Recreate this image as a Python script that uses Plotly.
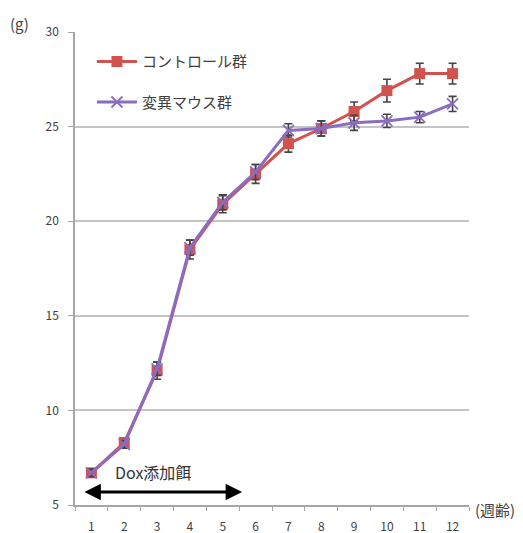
import plotly.graph_objects as go

# Body weight by age (weeks)
weeks = [1, 2, 3, 4, 5, 6, 7, 8, 9, 10, 11, 12]
control_mean = [6.7, 8.3, 12.1, 18.5, 20.9, 22.5, 24.1, 24.9, 25.8, 26.9, 27.8, 27.8]
control_err = [0.2, 0.25, 0.45, 0.5, 0.45, 0.5, 0.45, 0.4, 0.5, 0.6, 0.55, 0.55]
mutant_mean = [6.7, 8.2, 12.2, 18.6, 21.0, 22.6, 24.8, 24.9, 25.2, 25.3, 25.5, 26.2]
mutant_err = [0.2, 0.2, 0.35, 0.4, 0.4, 0.4, 0.35, 0.4, 0.4, 0.35, 0.3, 0.4]

series_names = ["コントロール群", "変異マウス群"]
x_tick_labels = [str(w) for w in weeks]
y_ticks = [5, 10, 15, 20, 25, 30]

FONT = "Noto Sans CJK JP, Noto Sans, sans-serif"
RED = "#d0534f"
PURPLE = "#8a6cc0"
ERR = "#444444"
TXT = "#404040"

fig = go.Figure()

fig.add_trace(go.Scatter(
    x=weeks, y=control_mean, name=series_names[0], mode="lines+markers",
    line=dict(color=RED, width=3),
    marker=dict(symbol="square", size=11, color=RED),
    error_y=dict(type="data", array=control_err, color=ERR, thickness=1.6, width=4),
    legendgroup="a",
))
fig.add_trace(go.Scatter(
    x=weeks, y=mutant_mean, name=series_names[1], mode="lines+markers",
    line=dict(color=PURPLE, width=3),
    marker=dict(symbol="x-thin", size=11, color=PURPLE, line=dict(color=PURPLE, width=1.8)),
    error_y=dict(type="data", array=mutant_err, color=ERR, thickness=1.6, width=4),
    legendgroup="b",
))

fig.update_layout(
    width=523, height=533,
    margin=dict(l=75, r=54, t=32, b=28),
    paper_bgcolor="white", plot_bgcolor="white",
    font=dict(family=FONT, color=TXT, size=12),
    showlegend=True,
    legend=dict(
        x=0.043, y=0.972, xanchor="left", yanchor="top",
        bgcolor="rgba(0,0,0,0)", font=dict(size=15, color=TXT),
        traceorder="grouped", tracegroupgap=18, itemwidth=40,
    ),
    xaxis=dict(
        range=[0.5, 12.5], tickmode="array", tickvals=weeks, ticktext=x_tick_labels,
        showgrid=False, zeroline=False, automargin=False,
        showline=True, linecolor="#a6a6a6", linewidth=1.5,
        ticks="", ticklabelstandoff=10, tickfont=dict(size=12, color=TXT),
        minor=dict(tickmode="linear", tick0=0.5, dtick=1, ticks="outside",
                   ticklen=4, tickcolor="#a6a6a6", tickwidth=1.2, showgrid=False),
    ),
    yaxis=dict(
        range=[5, 30], tickmode="array", tickvals=y_ticks,
        showgrid=True, gridcolor="#c4c4c4", gridwidth=1.5, automargin=False,
        zeroline=False, showline=True, linecolor="#a6a6a6", linewidth=1.5,
        ticks="outside", ticklen=5, tickcolor="#a6a6a6", tickwidth=1.2,
        ticklabelstandoff=7, tickfont=dict(size=12, color=TXT),
    ),
)

# Unit labels
fig.add_annotation(xref="paper", yref="paper", x=-0.17, y=1.017, text="(g)",
                   showarrow=False, xanchor="left", yanchor="middle",
                   font=dict(size=15, color=TXT))
fig.add_annotation(xref="paper", yref="paper", x=1.01, y=-0.01, text="(週齢)",
                   showarrow=False, xanchor="left", yanchor="middle",
                   font=dict(size=15, color=TXT))

# Dox diet period: double-headed arrow
fig.add_annotation(x=5.59, y=5.69, ax=0.74, ay=5.69, xref="x", yref="y",
                   axref="x", ayref="y", text="", showarrow=True,
                   arrowhead=2, startarrowhead=2, arrowside="end+start",
                   arrowsize=1.1, startarrowsize=1.1, arrowwidth=3, arrowcolor="#000000")
fig.add_annotation(x=1.66, y=6.74, xref="x", yref="y", text="Dox添加餌",
                   showarrow=False, xanchor="left", yanchor="middle",
                   font=dict(size=16, color="#333333"))

fig.write_html("out.html")
